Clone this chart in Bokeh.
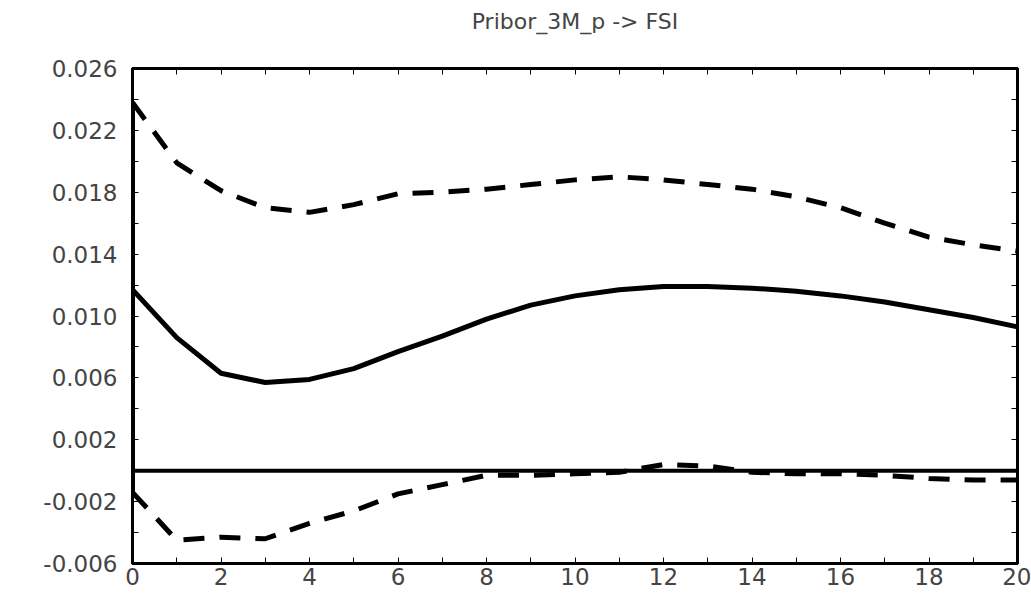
from bokeh.plotting import figure
from bokeh.models import (Range1d, FixedTicker, NumeralTickFormatter, LinearAxis,
                          Span)
from bokeh.embed import file_html
from bokeh.resources import INLINE

# ---- data ----
title_text = "Pribor_3M_p -> FSI"
steps = list(range(0, 21))
irf = [0.0117, 0.0086, 0.0063, 0.0057, 0.0059, 0.0066, 0.0077, 0.0087, 0.0098,
       0.0107, 0.0113, 0.0117, 0.0119, 0.0119, 0.0118, 0.0116, 0.0113, 0.0109,
       0.0104, 0.0099, 0.0093]
upper = [0.0238, 0.0199, 0.0181, 0.0170, 0.0167, 0.0172, 0.0179, 0.0180, 0.0182,
         0.0185, 0.0188, 0.0190, 0.0188, 0.0185, 0.0182, 0.0177, 0.0170, 0.0160,
         0.0151, 0.0146, 0.0142]
lower = [-0.0014, -0.0045, -0.0043, -0.0044, -0.0034, -0.0026, -0.0015, -0.0009,
         -0.0003, -0.0003, -0.0002, -0.0001, 0.0004, 0.0003, -0.0001, -0.0002,
         -0.0002, -0.0003, -0.0005, -0.0006, -0.0006]
x_major = [0, 2, 4, 6, 8, 10, 12, 14, 16, 18, 20]
x_minor = [1, 3, 5, 7, 9, 11, 13, 15, 17, 19]
y_major = [-0.006, -0.002, 0.002, 0.006, 0.010, 0.014, 0.018, 0.022, 0.026]
y_minor = [-0.004, 0.0, 0.004, 0.008, 0.012, 0.016, 0.020, 0.024]

FONT = "DejaVu Sans"
TXT = "#444444"

p = figure(width=1031, height=596, output_backend="svg", toolbar_location=None,
           x_range=Range1d(0, 20), y_range=Range1d(-0.006, 0.026),
           min_border_left=132, min_border_right=14, min_border_top=68,
           min_border_bottom=33, background_fill_color="white",
           border_fill_color="white")
p.xgrid.visible = False
p.ygrid.visible = False
p.outline_line_color = "black"
p.outline_line_width = 3

xt = FixedTicker(ticks=x_major, minor_ticks=x_minor)
yt = FixedTicker(ticks=y_major, minor_ticks=y_minor)

def style(ax, ticker):
    ax.ticker = ticker
    ax.axis_line_color = "black"
    ax.axis_line_width = 3
    ax.major_tick_in = 6
    ax.major_tick_out = 0
    ax.minor_tick_in = 6
    ax.minor_tick_out = 0
    ax.major_tick_line_width = 1
    ax.minor_tick_line_width = 1
    ax.major_label_text_font = FONT
    ax.major_label_text_color = TXT
    ax.major_label_text_font_size = "23px"

xa = p.xaxis[0]
style(xa, xt)
xa.major_label_standoff = 4

ya = p.yaxis[0]
style(ya, yt)
ya.formatter = NumeralTickFormatter(format="0.000")
ya.major_label_standoff = 15

# top axis: frame ticks + chart title as its label
top = LinearAxis()
style(top, FixedTicker(ticks=x_major, minor_ticks=x_minor))
top.major_label_overrides = {v: "" for v in x_major}
top.major_label_standoff = 0
top.axis_label = title_text
top.axis_label_text_font = FONT
top.axis_label_text_font_size = "22px"
top.axis_label_text_font_style = "normal"
top.axis_label_text_color = TXT
top.axis_label_standoff = 35
p.add_layout(top, "above")

right = LinearAxis()
style(right, FixedTicker(ticks=y_major, minor_ticks=y_minor))
right.major_label_overrides = {v: "" for v in y_major}
right.major_label_standoff = 0
p.add_layout(right, "right")

# zero line
p.add_layout(Span(location=0, dimension="width", line_color="black", line_width=4))

# vertical band edge at step 0
p.segment(x0=[steps[0]], y0=[lower[0]], x1=[steps[0]], y1=[upper[0]],
          line_color="black", line_width=5)

# bands and response
p.line(steps, upper, line_color="black", line_width=5, line_dash="21 15")
p.line(steps, lower, line_color="black", line_width=5, line_dash="21 15")
p.line(steps, irf, line_color="black", line_width=5, line_join="round")

open("out.html", "w").write(file_html(p, INLINE))
